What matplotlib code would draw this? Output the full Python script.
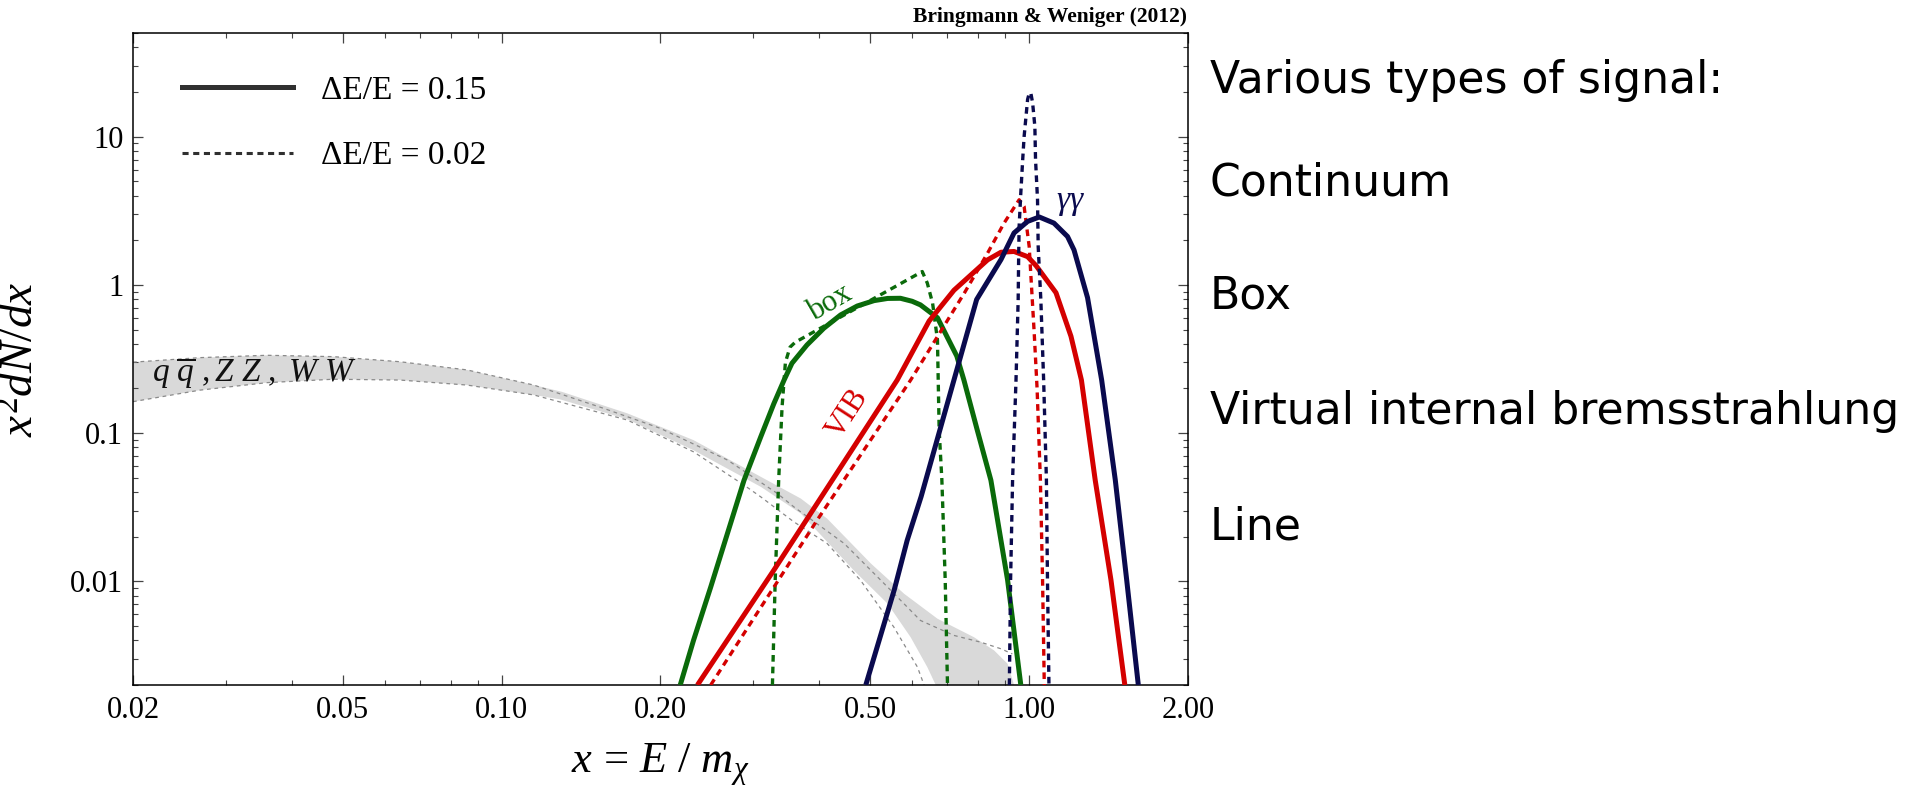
import matplotlib

matplotlib.use("Agg")
import matplotlib.pyplot as plt
import numpy as np
from matplotlib.lines import Line2D
from matplotlib.ticker import FixedFormatter, FixedLocator, NullFormatter

plt.rcParams["font.family"] = ["Liberation Serif", "DejaVu Serif"]
plt.rcParams["mathtext.fontset"] = "custom"
plt.rcParams["mathtext.rm"] = "Liberation Serif"
plt.rcParams["mathtext.it"] = "Liberation Serif:italic"
plt.rcParams["mathtext.bf"] = "Liberation Serif:bold"

# colours
GREEN = "#0a6a0a"
RED = "#d40000"
NAVY = "#0a0a4e"
BAND = "#d9d9d9"
BAND_LINE = "#8a8a8a"

# ---- continuum band (q qbar, ZZ, WW) ----
band_up_x = [0.02, 0.0268, 0.0359, 0.048, 0.0642, 0.0859, 0.115, 0.13, 0.173, 0.231,
             0.310, 0.369, 0.414, 0.501, 0.579, 0.670, 0.786, 0.858, 0.910, 0.936]
band_up_y = [0.301, 0.323, 0.335, 0.328, 0.303, 0.267, 0.211, 0.19, 0.136, 0.0897,
             0.0507, 0.0362, 0.0265, 0.0132, 0.00826, 0.0056, 0.0042, 0.00342, 0.00278, 0.002]
band_lo_x = [0.02, 0.0268, 0.0359, 0.048, 0.0642, 0.0859, 0.115, 0.129, 0.173, 0.231,
             0.310, 0.369, 0.465, 0.539, 0.596, 0.641, 0.665]
band_lo_y = [0.163, 0.195, 0.219, 0.231, 0.228, 0.211, 0.181, 0.169, 0.124, 0.0767,
             0.0434, 0.0287, 0.01187, 0.00707, 0.0042, 0.00264, 0.002]
mid_dot_x = [0.02, 0.0268, 0.0359, 0.048, 0.0642, 0.0859, 0.115, 0.156, 0.2, 0.268,
             0.333, 0.358, 0.446, 0.539, 0.622, 0.72, 0.809, 0.884, 0.929]
mid_dot_y = [0.301, 0.323, 0.335, 0.328, 0.303, 0.267, 0.211, 0.147, 0.1076, 0.0658,
             0.0392, 0.0318, 0.018, 0.00915, 0.00545, 0.00432, 0.00389, 0.00351, 0.00324]
low_dot_x = [0.02, 0.0268, 0.0359, 0.048, 0.0642, 0.0859, 0.115, 0.173, 0.231, 0.288,
             0.31, 0.358, 0.414, 0.479, 0.554, 0.614, 0.632]
low_dot_y = [0.163, 0.195, 0.219, 0.231, 0.228, 0.211, 0.181, 0.1226, 0.0748, 0.0446,
             0.0371, 0.0252, 0.018, 0.01016, 0.00491, 0.00264, 0.002]

# ---- box, dE/E = 0.15 and 0.02 ----
box_x = [0.218, 0.231, 0.249, 0.288, 0.31, 0.328, 0.343, 0.355, 0.379, 0.408, 0.439, 0.472,
         0.508, 0.539, 0.57, 0.6, 0.622, 0.67, 0.729, 0.752, 0.797, 0.846, 0.91, 0.964]
box_y = [0.002, 0.004, 0.00915, 0.0481, 0.095, 0.158, 0.228, 0.296, 0.393, 0.51, 0.627, 0.72,
         0.783, 0.81, 0.812, 0.775, 0.733, 0.6, 0.331, 0.228, 0.105, 0.0481, 0.0102, 0.002]
box_fine_x = [0.326, 0.330, 0.335, 0.340, 0.345, 0.352, 0.36, 0.627, 0.641, 0.656, 0.67,
              0.675, 0.683, 0.693, 0.70]
box_fine_y = [0.002, 0.0103, 0.0481, 0.15, 0.30, 0.38, 0.41, 1.23, 1.027, 0.75, 0.425,
              0.105, 0.0484, 0.0103, 0.002]

# ---- VIB ----
vib_x = [0.235, 0.328, 0.562, 0.646, 0.72, 0.834, 0.884, 0.936, 0.993, 1.03, 1.124, 1.20,
         1.256, 1.334, 1.429, 1.518]
vib_y = [0.002, 0.0119, 0.228, 0.57, 0.92, 1.475, 1.66, 1.68, 1.55, 1.35, 0.885, 0.45,
         0.228, 0.0481, 0.0102, 0.002]
vib_fine_x = [0.249, 0.396, 0.596, 0.754, 0.834, 0.896, 0.957, 0.978, 1.0, 1.022, 1.035,
              1.05, 1.06, 1.068]
vib_fine_y = [0.002, 0.0258, 0.228, 0.885, 1.64, 2.61, 3.75, 3.38, 1.81, 0.476, 0.2,
              0.0484, 0.0103, 0.002]

# ---- gamma gamma line ----
line_x = [0.49, 0.555, 0.587, 0.624, 0.72, 0.795, 0.884, 0.936, 0.993, 1.045, 1.114, 1.182,
          1.216, 1.29, 1.372, 1.456, 1.53, 1.61]
line_y = [0.002, 0.0088, 0.0189, 0.0374, 0.228, 0.797, 1.48, 2.24, 2.68, 2.87, 2.61, 2.12,
          1.72, 0.82, 0.228, 0.0484, 0.0103, 0.002]
line_fine_x = [0.917, 0.922, 0.93, 0.944, 0.953, 0.955, 0.957, 0.964, 0.972, 0.978, 0.993,
               1.0, 1.007, 1.015, 1.025, 1.028, 1.037, 1.04, 1.052, 1.065, 1.078, 1.083, 1.09]
line_fine_y = [0.002, 0.0103, 0.0484, 0.228, 0.797, 1.55, 2.48, 4.17, 7.0, 10.0, 17.8,
               19.6, 19.7, 16.9, 11.7, 7.0, 3.75, 1.81, 0.797, 0.228, 0.0484, 0.0103, 0.002]

x_major = [0.02, 0.05, 0.1, 0.2, 0.5, 1.0, 2.0]
x_major_labels = ["0.02", "0.05", "0.10", "0.20", "0.50", "1.00", "2.00"]
x_minor = [0.03, 0.04, 0.06, 0.07, 0.08, 0.09, 0.3, 0.4, 0.6, 0.7, 0.8, 0.9]
y_major = [0.01, 0.1, 1, 10]
y_major_labels = ["0.01", "0.1", "1", "10"]
y_minor = [m * d for d in (0.001, 0.01, 0.1, 1, 10) for m in range(2, 10)]

legend_labels = ["\u0394E/E = 0.15", "\u0394E/E = 0.02"]
signal_types = ["Various types of signal:", "Continuum", "Box",
                "Virtual internal bremsstrahlung", "Line"]

W, H = 1915, 789
fig = plt.figure(figsize=(W / 100, H / 100), dpi=100)
ax = fig.add_axes([133 / W, (H - 685) / H, 1055 / W, 652 / H])
ax.set_xscale("log")
ax.set_yscale("log")
ax.set_xlim(0.02, 2.0)
ax.set_ylim(0.002, 50)

solid = dict(lw=3.6, solid_capstyle="butt", solid_joinstyle="round")
dotted = dict(lw=2.4, ls=(0, (2, 1.5)), dash_capstyle="butt")
gdot = dict(lw=0.9, ls=(0, (3, 3)), color=BAND_LINE)

ax.fill(np.concatenate([band_up_x, band_lo_x[::-1]]),
        np.concatenate([band_up_y, band_lo_y[::-1]]),
        color=BAND, lw=0, zorder=1)
ax.plot(mid_dot_x, mid_dot_y, zorder=2, **gdot)
ax.plot(low_dot_x, low_dot_y, zorder=2, **gdot)

ax.plot(box_x, box_y, color=GREEN, zorder=3, **solid)
ax.plot(box_fine_x, box_fine_y, color=GREEN, zorder=3, **dotted)
ax.plot(vib_x, vib_y, color=RED, zorder=3, **solid)
ax.plot(vib_fine_x, vib_fine_y, color=RED, zorder=3, **dotted)
ax.plot(line_x, line_y, color=NAVY, zorder=3, **solid)
ax.plot(line_fine_x, line_fine_y, color=NAVY, zorder=3, **dotted)

# curve labels
ax.text(0.42, 0.752, "box", color=GREEN, fontsize=22, rotation=30,
        ha="center", va="center")
ax.text(0.453, 0.136, "VIB", color=RED, fontsize=22, rotation=57,
        ha="center", va="center")
ax.text(1.2, 3.56, r"$\gamma\gamma$", color=NAVY, fontsize=24,
        ha="center", va="center")
ax.text(0.0217, 0.221, r"$q\ \overline{q}\ ,Z\ Z\ ,\ W\ W$", color="#111111",
        fontsize=24, ha="left", va="baseline")

# legend
handles = [Line2D([], [], color="#303030", lw=3.6),
           Line2D([], [], color="#303030", lw=2.2, ls=(0, (2, 1.5)))]
ax.legend(handles, legend_labels, loc="upper left",
          bbox_to_anchor=(0.0465, 0.935), frameon=False, fontsize=24,
          handlelength=3.33, handletextpad=0.84, labelspacing=1.05,
          borderpad=0, borderaxespad=0)

# ticks, Mathematica style: inward on all four sides
ax.xaxis.set_major_locator(FixedLocator(x_major))
ax.xaxis.set_major_formatter(FixedFormatter(x_major_labels))
ax.xaxis.set_minor_locator(FixedLocator(x_minor))
ax.xaxis.set_minor_formatter(NullFormatter())
ax.yaxis.set_major_locator(FixedLocator(y_major))
ax.yaxis.set_major_formatter(FixedFormatter(y_major_labels))
ax.yaxis.set_minor_locator(FixedLocator(y_minor))
ax.yaxis.set_minor_formatter(NullFormatter())
ax.tick_params(which="both", direction="in", top=True, right=True,
               color="#444444", labelsize=22)
ax.tick_params(which="major", length=7, width=0.9)
ax.tick_params(which="minor", length=3.8, width=0.8)
ax.tick_params(axis="x", pad=8)
ax.tick_params(axis="y", pad=7)
for sp in ax.spines.values():
    sp.set_linewidth(1.1)

ax.set_xlabel(r"$x\,=\,E\ /\ m_{\chi}$", fontsize=32)
ax.xaxis.set_label_coords(0.5, -0.086)
ax.set_ylabel(r"$x^2dN/dx$", fontsize=34)
ax.yaxis.set_label_coords(-0.085, 0.5)

fig.text(1187 / W, 1 - 17 / H, "Bringmann & Weniger (2012)", ha="right",
         va="center", fontsize=15.5, fontweight="bold")

ys = [80, 183, 296, 412, 527]
for label, yy in zip(signal_types, ys):
    fig.text(1210 / W, 1 - yy / H, label, ha="left", va="center",
             fontsize=31.8, family="DejaVu Sans")

fig.savefig("out.png", dpi=100)
